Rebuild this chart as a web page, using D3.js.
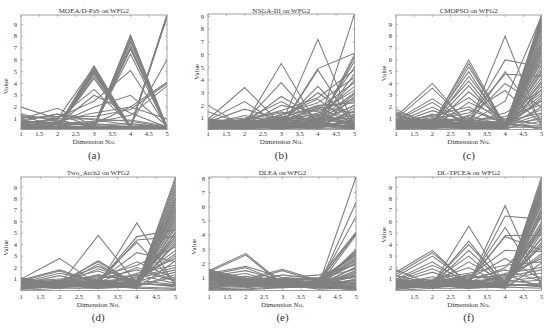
<!DOCTYPE html>
<html>
<head>
<meta charset="utf-8">
<script src="https://cdn.jsdelivr.net/npm/d3@7"></script>
<style>
body { margin: 0; background: #fff; }
svg text { font-family: "Liberation Serif", "Times New Roman", serif; fill: #333; }
</style>
</head>
<body>
<svg width="550" height="328"></svg>
<script>
// objective dimensions and x tick labels
var dims = [1, 2, 3, 4, 5];
var xTicks = [1, 1.5, 2, 2.5, 3, 3.5, 4, 4.5, 5];
var titles = ["MOEA/D-PaS on WFG2", "NSGA-III on WFG2", "CMOPSO on WFG2",
              "Two_Arch2 on WFG2", "DLEA on WFG2", "DL-TPCEA on WFG2"];
var letters = ["(a)", "(b)", "(c)", "(d)", "(e)", "(f)"];

// each row = one solution, values on dims 1..5
var moeadPas = [
  [2.0, 1.0, 5.4, 0.3, 0.3], [1.3, 0.3, 5.5, 0.3, 0.2], [0.9, 0.3, 5.2, 0.3, 0.2],
  [0.6, 0.3, 5.0, 0.2, 0.3], [0.4, 0.2, 4.8, 0.3, 0.2], [0.3, 0.2, 4.6, 0.3, 0.3],
  [0.2, 0.3, 4.4, 0.2, 0.2], [0.5, 0.2, 5.3, 0.3, 0.2], [1.0, 1.9, 0.4, 8.1, 0.3],
  [0.8, 1.4, 0.3, 7.8, 0.2], [0.6, 0.9, 0.3, 7.5, 0.3], [0.3, 0.3, 0.3, 7.2, 0.2],
  [0.2, 0.2, 0.3, 6.9, 0.3], [0.4, 0.3, 0.4, 6.5, 0.2], [0.3, 0.2, 0.3, 8.0, 0.3],
  [0.2, 0.3, 0.2, 0.3, 9.8], [0.3, 0.2, 0.3, 0.2, 9.7], [0.4, 0.3, 0.3, 0.3, 9.8],
  [0.2, 0.2, 0.4, 0.3, 9.6], [1.2, 1.0, 3.5, 0.5, 0.3], [0.7, 0.5, 3.0, 1.5, 0.3],
  [0.5, 1.1, 2.5, 5.1, 0.3], [0.8, 0.6, 2.0, 3.0, 0.4], [0.3, 0.8, 1.5, 2.0, 4.1],
  [1.1, 1.2, 1.2, 1.8, 4.0], [0.9, 1.4, 0.9, 0.5, 6.0], [0.4, 0.4, 0.7, 1.3, 3.8],
  [0.6, 1.0, 1.0, 0.8, 0.3], [1.4, 0.8, 0.5, 0.6, 0.3], [0.2, 0.2, 0.3, 0.3, 0.3],
  [0.3, 0.4, 0.6, 2.0, 1.0], [0.1, 0.2, 0.2, 0.2, 0.2], [0.5, 0.6, 0.8, 0.9, 0.4],
  [0.3, 0.3, 5.1, 0.2, 0.2], [0.4, 0.2, 4.9, 0.3, 0.3], [0.2, 0.3, 0.2, 7.6, 0.2],
  [0.3, 0.2, 0.3, 7.0, 0.3], [0.3, 0.2, 0.2, 0.2, 9.7], [0.7, 0.7, 0.4, 0.4, 0.2],
  [0.9, 0.5, 0.6, 0.3, 0.3]
];
var nsga3 = [
  [2.0, 0.3, 0.5, 0.4, 0.3], [1.5, 0.5, 0.6, 0.8, 1.0], [0.9, 3.4, 0.5, 0.3, 0.4],
  [0.8, 2.3, 0.4, 0.5, 0.3], [0.7, 1.7, 0.9, 0.6, 2.0], [0.6, 0.5, 5.3, 0.4, 0.3],
  [0.5, 0.7, 3.8, 0.5, 0.4], [0.4, 0.6, 2.7, 1.0, 0.5], [0.3, 0.9, 2.3, 0.8, 1.2],
  [0.8, 0.5, 2.0, 1.5, 0.4], [0.7, 0.4, 0.5, 7.2, 0.3], [0.6, 0.3, 0.4, 4.9, 6.1],
  [0.5, 0.8, 0.3, 4.8, 0.3], [0.4, 0.9, 0.6, 3.5, 0.5], [0.3, 0.4, 0.8, 3.0, 1.0],
  [0.9, 0.6, 1.2, 2.5, 0.4], [0.2, 0.5, 1.0, 2.0, 2.2], [0.6, 0.2, 0.3, 0.3, 9.2],
  [0.5, 0.7, 0.5, 0.4, 6.0], [0.4, 0.6, 0.7, 0.6, 5.5], [0.8, 0.8, 0.3, 1.0, 5.0],
  [0.3, 0.3, 0.9, 0.5, 4.5], [0.7, 1.0, 1.5, 0.7, 4.0], [0.2, 0.4, 0.4, 1.2, 3.5],
  [0.9, 0.5, 1.1, 0.9, 3.0], [0.5, 1.2, 0.6, 0.3, 2.7], [0.6, 0.9, 1.4, 1.6, 2.5],
  [0.4, 0.3, 0.5, 0.2, 1.8], [0.3, 0.6, 0.2, 0.6, 1.5], [0.8, 0.7, 0.8, 1.8, 0.6],
  [0.1, 0.2, 0.2, 0.2, 0.2], [0.2, 0.1, 0.1, 0.6, 0.1], [0.3, 0.2, 0.4, 0.7, 0.2],
  [0.5, 0.3, 0.2, 0.3, 0.8], [0.6, 0.5, 0.3, 0.8, 0.2], [0.7, 0.6, 0.6, 0.4, 0.1],
  [0.9, 0.4, 0.7, 1.1, 0.3], [0.4, 0.8, 0.9, 1.3, 0.5], [0.8, 0.3, 1.3, 2.2, 4.2],
  [0.2, 0.6, 0.7, 1.4, 3.2], [0.7, 0.2, 0.4, 0.9, 2.4], [0.5, 0.4, 1.0, 0.5, 1.3],
  [0.1, 0.3, 0.5, 0.9, 0.6], [0.3, 0.1, 0.8, 0.2, 0.9], [0.5, 0.5, 0.1, 1.0, 0.4],
  [0.7, 0.8, 0.4, 0.1, 1.1], [0.9, 0.2, 0.6, 0.5, 0.2], [0.2, 0.7, 0.3, 0.4, 0.7],
  [0.4, 0.4, 0.9, 0.7, 0.3], [0.6, 0.1, 0.5, 1.2, 0.5], [0.8, 0.6, 0.2, 0.3, 1.6],
  [0.3, 0.9, 1.1, 0.8, 2.0], [0.5, 0.2, 0.7, 1.7, 3.8], [0.1, 0.5, 0.4, 0.6, 2.9],
  [0.7, 0.3, 1.0, 1.9, 1.4], [0.9, 0.7, 0.5, 0.4, 5.8], [0.2, 0.8, 1.6, 2.6, 4.8]
];
var cmopso = [
  [1.8, 0.4, 0.5, 0.3, 9.8], [1.6, 0.6, 0.4, 0.2, 9.5], [1.4, 0.3, 0.6, 0.3, 9.0],
  [1.2, 4.0, 0.5, 0.4, 8.5], [1.0, 3.6, 0.6, 0.3, 8.0], [0.9, 2.7, 0.7, 0.5, 7.5],
  [0.8, 2.4, 0.4, 0.3, 7.0], [0.7, 2.0, 0.5, 0.2, 6.5], [0.6, 1.7, 0.8, 0.4, 6.0],
  [0.5, 1.4, 0.3, 0.3, 5.5], [0.4, 0.5, 6.0, 0.4, 5.0], [0.3, 0.6, 5.7, 0.3, 4.5],
  [0.2, 0.4, 5.4, 0.5, 4.0], [0.6, 0.7, 5.0, 0.3, 3.5], [0.5, 0.5, 4.6, 0.6, 3.0],
  [0.4, 0.8, 4.2, 0.4, 2.5], [0.3, 0.6, 3.8, 0.3, 2.0], [0.7, 0.4, 3.3, 0.8, 1.5],
  [0.8, 0.9, 2.8, 0.5, 1.0], [0.2, 0.3, 2.4, 1.0, 0.5], [0.5, 0.6, 0.5, 8.0, 0.3],
  [0.4, 0.5, 0.8, 6.0, 5.4], [0.6, 0.7, 0.6, 5.0, 0.8], [0.3, 0.4, 1.2, 4.8, 4.6],
  [0.7, 0.8, 0.9, 4.0, 2.0], [0.2, 1.0, 1.5, 3.4, 0.6], [0.9, 1.2, 0.7, 2.5, 9.7],
  [0.5, 0.3, 0.4, 0.2, 9.3], [0.3, 0.5, 0.3, 0.3, 8.8], [0.6, 0.2, 0.6, 0.4, 8.2],
  [0.4, 0.7, 0.2, 0.2, 7.8], [0.8, 0.4, 0.9, 0.5, 7.2], [0.2, 0.6, 0.5, 0.3, 6.8],
  [0.7, 1.1, 0.4, 0.6, 6.2], [0.3, 0.9, 1.0, 0.4, 5.8], [0.5, 0.3, 0.7, 0.7, 5.2],
  [0.1, 0.2, 0.3, 0.2, 4.2], [0.6, 0.8, 1.1, 0.9, 3.2], [0.4, 0.5, 0.8, 1.2, 2.2],
  [0.9, 0.7, 0.5, 0.3, 0.3], [1.1, 0.9, 1.8, 0.6, 0.2], [0.2, 0.1, 0.2, 0.1, 1.2],
  [0.1, 0.5, 0.6, 0.2, 0.8], [0.3, 0.2, 0.4, 0.5, 1.8], [0.5, 0.8, 0.2, 0.3, 2.8],
  [0.7, 0.3, 0.7, 0.1, 3.8], [0.9, 0.6, 0.3, 0.4, 4.8], [1.3, 0.5, 0.5, 0.3, 6.6],
  [1.5, 0.4, 0.8, 0.2, 7.4], [0.2, 0.7, 0.4, 0.6, 8.6], [0.4, 0.2, 0.6, 0.3, 9.1],
  [0.6, 0.9, 0.5, 0.2, 9.6], [0.8, 0.3, 0.2, 0.5, 0.4], [0.3, 0.8, 0.9, 0.7, 0.1],
  [0.5, 0.4, 1.3, 0.4, 1.4], [0.7, 1.3, 2.0, 0.6, 2.6], [0.2, 0.6, 0.7, 1.5, 3.4]
];
var twoArch2 = [
  [1.1, 0.5, 0.6, 0.4, 9.9], [1.0, 2.8, 0.5, 0.6, 0.4], [0.9, 1.8, 0.7, 0.5, 8.0],
  [0.8, 1.7, 0.6, 0.3, 7.6], [0.7, 1.5, 0.8, 0.5, 7.2], [0.6, 1.3, 0.5, 0.4, 6.8],
  [0.5, 0.5, 4.8, 0.6, 0.5], [0.4, 0.6, 2.6, 0.5, 6.4], [0.3, 0.7, 2.5, 0.4, 6.0],
  [0.6, 0.4, 2.3, 0.3, 5.6], [0.5, 0.8, 2.1, 0.7, 5.0], [0.4, 0.5, 1.9, 0.8, 4.6],
  [0.3, 0.9, 1.7, 0.5, 4.2], [0.7, 0.6, 0.5, 5.9, 0.4], [0.6, 0.5, 0.7, 4.7, 5.3],
  [0.5, 0.7, 0.6, 4.4, 4.7], [0.4, 0.4, 0.9, 4.2, 0.6], [0.3, 0.6, 0.8, 3.3, 2.5],
  [0.2, 0.5, 1.0, 2.5, 1.0], [0.8, 1.0, 1.2, 2.2, 3.8], [0.5, 0.4, 0.4, 0.3, 9.6],
  [0.4, 0.3, 0.5, 0.4, 9.0], [0.6, 0.6, 0.3, 0.5, 8.5], [0.3, 0.5, 0.6, 0.3, 7.8],
  [0.7, 0.7, 0.4, 0.6, 7.0], [0.2, 0.4, 0.7, 0.4, 6.6], [0.6, 0.8, 0.5, 0.7, 5.8],
  [0.4, 0.6, 0.8, 0.5, 5.4], [0.5, 0.3, 0.6, 0.8, 4.4], [0.3, 0.7, 0.9, 0.6, 4.0],
  [0.7, 0.5, 0.7, 1.0, 3.5], [0.2, 0.4, 0.5, 0.9, 3.0], [0.6, 0.9, 1.1, 1.3, 2.8],
  [0.4, 0.6, 0.4, 1.5, 2.2], [0.5, 0.5, 0.8, 1.1, 1.8], [0.3, 0.3, 0.3, 0.4, 1.4],
  [0.9, 0.8, 1.0, 1.8, 0.8], [0.0, 0.2, 0.2, 0.3, 0.2], [0.8, 0.7, 1.3, 0.9, 0.5],
  [0.2, 0.3, 0.4, 0.2, 0.1],
  [0.1, 0.4, 0.3, 0.6, 9.3], [0.3, 0.6, 0.5, 0.2, 8.8], [0.5, 0.2, 0.7, 0.5, 8.2],
  [0.7, 0.5, 0.2, 0.4, 7.4], [0.9, 0.3, 0.6, 0.7, 6.2], [0.2, 0.7, 0.4, 0.3, 5.1],
  [0.4, 0.2, 0.8, 0.6, 4.8], [0.6, 0.6, 0.3, 0.9, 3.2], [0.8, 0.4, 0.9, 0.2, 2.6],
  [1.0, 0.7, 0.5, 1.2, 2.0], [0.3, 0.5, 0.2, 0.8, 1.6], [0.5, 0.8, 0.6, 0.4, 1.2],
  [0.7, 0.3, 0.4, 1.4, 0.6], [0.2, 0.6, 1.4, 0.7, 0.3], [0.6, 0.9, 0.7, 2.0, 0.9]
];
var dlea = [
  [1.6, 0.5, 0.9, 0.6, 8.1], [1.5, 2.7, 0.6, 0.5, 0.3], [1.4, 2.6, 0.5, 0.7, 0.4],
  [1.3, 1.8, 1.0, 0.5, 6.3], [1.2, 1.7, 0.7, 0.6, 5.3], [1.1, 1.5, 0.8, 0.7, 4.2],
  [1.0, 1.3, 0.6, 0.8, 4.1], [0.9, 1.1, 0.7, 0.6, 2.8], [0.8, 0.9, 1.6, 0.8, 2.7],
  [0.7, 0.8, 1.5, 0.7, 2.5], [0.6, 0.7, 1.2, 0.9, 2.2], [0.5, 0.6, 1.0, 1.2, 1.9],
  [0.4, 0.5, 0.8, 1.0, 1.6], [0.3, 0.6, 0.6, 0.8, 1.0], [0.2, 0.7, 0.5, 0.6, 0.8],
  [0.1, 0.2, 0.4, 0.5, 0.5], [1.6, 0.6, 0.5, 0.4, 0.3], [1.5, 0.8, 0.6, 0.5, 4.0],
  [1.4, 0.5, 0.7, 0.6, 2.9], [1.3, 0.7, 0.5, 0.8, 2.6], [1.2, 0.6, 0.8, 0.5, 2.3],
  [1.1, 0.9, 0.6, 0.7, 2.0], [1.0, 0.5, 0.5, 0.6, 1.7], [0.9, 0.7, 0.7, 0.5, 1.4],
  [0.8, 0.6, 0.9, 0.7, 1.2], [0.7, 0.5, 0.6, 0.4, 0.9], [0.6, 0.8, 0.5, 0.6, 0.6],
  [0.5, 0.6, 0.7, 0.5, 0.4], [0.4, 0.5, 0.4, 0.3, 0.2], [0.3, 0.4, 0.3, 0.4, 0.1],
  [0.2, 0.3, 0.5, 0.2, 0.3], [1.5, 1.0, 0.9, 1.0, 4.2], [1.4, 0.7, 0.8, 0.9, 2.7],
  [1.3, 0.6, 0.6, 0.8, 0.2], [1.2, 0.5, 0.4, 0.6, 0.1], [1.1, 0.4, 0.6, 0.5, 1.5],
  [1.0, 0.6, 0.3, 0.7, 0.7], [0.9, 0.5, 0.5, 0.3, 0.5], [0.15, 0.15, 0.3, 0.4, 0.3],
  [1.6, 0.7, 0.6, 0.5, 1.1], [1.55, 0.9, 0.7, 0.6, 0.6], [1.45, 0.6, 0.8, 0.4, 1.8],
  [1.35, 0.8, 0.5, 0.7, 0.3], [1.25, 0.9, 0.7, 0.5, 3.0], [1.15, 0.7, 0.9, 0.9, 0.5],
  [1.05, 0.8, 0.4, 0.6, 2.4], [0.95, 0.4, 0.6, 0.8, 0.2], [0.85, 0.7, 0.5, 0.4, 1.3],
  [0.75, 0.9, 0.8, 0.6, 0.8], [0.65, 0.5, 0.6, 0.7, 2.1], [0.55, 0.4, 0.5, 0.5, 0.4],
  [0.45, 0.7, 0.7, 0.6, 0.7], [0.35, 0.5, 0.4, 0.8, 1.1], [0.25, 0.6, 0.6, 0.3, 0.3]
];
var dlTpcea = [
  [1.8, 0.5, 0.6, 0.4, 9.9], [1.6, 3.5, 0.5, 0.5, 0.4], [1.4, 3.3, 0.6, 0.6, 0.3],
  [1.2, 3.0, 0.7, 0.4, 9.0], [1.0, 2.5, 0.5, 0.3, 8.5], [0.9, 2.2, 0.8, 0.5, 8.0],
  [0.8, 1.9, 0.6, 0.6, 7.5], [0.7, 1.6, 0.5, 0.4, 7.0], [0.6, 0.5, 5.6, 0.5, 0.5],
  [0.5, 0.6, 4.3, 0.4, 6.5], [0.4, 0.7, 4.0, 0.6, 6.0], [0.3, 0.5, 3.5, 0.5, 5.5],
  [0.6, 0.8, 3.0, 0.3, 5.0], [0.5, 0.6, 2.5, 0.7, 4.5], [0.4, 0.9, 2.0, 0.5, 4.0],
  [0.3, 0.5, 0.6, 7.4, 0.3], [0.7, 0.6, 0.5, 6.5, 6.2], [0.6, 0.7, 0.8, 5.5, 0.6],
  [0.5, 0.5, 0.7, 4.8, 4.8], [0.4, 0.8, 0.9, 4.7, 3.5], [0.3, 0.6, 1.2, 3.5, 3.4],
  [0.2, 0.7, 1.0, 2.8, 1.0], [0.8, 1.0, 1.5, 2.2, 2.5], [0.5, 0.4, 0.5, 0.3, 9.6],
  [0.4, 0.3, 0.4, 0.4, 9.2], [0.6, 0.6, 0.6, 0.5, 8.7], [0.3, 0.5, 0.3, 0.3, 8.2],
  [0.7, 0.7, 0.5, 0.6, 7.8], [0.2, 0.4, 0.7, 0.4, 7.2], [0.6, 0.8, 0.4, 0.7, 6.8],
  [0.4, 0.6, 0.8, 0.5, 5.8], [0.5, 0.3, 0.6, 0.8, 5.2], [0.3, 0.7, 0.9, 0.6, 4.2],
  [0.7, 0.5, 0.7, 1.0, 3.8], [0.2, 0.4, 0.5, 0.9, 3.0], [0.6, 0.9, 1.1, 1.3, 2.8],
  [0.4, 0.6, 0.4, 1.5, 2.0], [0.5, 0.5, 0.8, 1.1, 1.5], [0.9, 0.8, 1.0, 1.8, 0.8],
  [0.0, 0.2, 0.2, 0.3, 0.2], [0.8, 0.7, 1.3, 0.9, 0.5],
  [0.1, 0.4, 0.3, 0.6, 9.4], [0.3, 0.6, 0.5, 0.2, 8.9], [0.5, 0.2, 0.7, 0.5, 8.4],
  [0.7, 0.5, 0.2, 0.4, 7.6], [0.9, 0.3, 0.6, 0.7, 6.6], [0.2, 0.7, 0.4, 0.3, 5.6],
  [0.4, 0.2, 0.8, 0.6, 4.6], [0.6, 0.6, 0.3, 0.9, 3.2], [0.8, 0.4, 0.9, 0.2, 2.4],
  [1.0, 0.7, 0.5, 1.2, 1.8], [0.3, 0.5, 0.2, 0.8, 1.2], [0.5, 0.8, 0.6, 0.4, 0.6],
  [0.7, 0.3, 0.4, 1.4, 0.3], [1.3, 0.6, 1.4, 0.7, 0.9], [0.6, 1.2, 0.7, 2.0, 5.3]
];

var series = [moeadPas, nsga3, cmopso, twoArch2, dlea, dlTpcea];

// plot boxes (px) and label offsets for each panel
var boxes = [
  {l: 21,  r: 167,   t: 15,  b: 129.5, yl: -13, ly: 14, row: 0},
  {l: 208, r: 354.5, t: 14,  b: 129.5, yl: -9,  ly: 0,  row: 0},
  {l: 396, r: 541.5, t: 15,  b: 129.5, yl: -10, ly: 1,  row: 0},
  {l: 21,  r: 175.5, t: 177, b: 290.5, yl: -13, ly: 14, row: 1},
  {l: 209, r: 356,   t: 177, b: 290.5, yl: -13, ly: 13, row: 1},
  {l: 396, r: 541.5, t: 177, b: 290.5, yl: -10, ly: 1,  row: 1, skipFirst: true}
];
var rowText = [
  {title: 12.5, tick: 136, xlab: 143.5, letter: 158.5},
  {title: 175,  tick: 299, xlab: 306.5, letter: 321}
];

var svg = d3.select("svg");
var lineColor = "#808080";
var frameColor = "#8c8c8c";

series.forEach(function(data, i) {
  var b = boxes[i];
  var rt = rowText[b.row];
  var all = d3.merge(data);
  var x = d3.scaleLinear().domain([1, 5]).range([b.l, b.r]);
  var y = d3.scaleLinear().domain(d3.extent(all)).range([b.b, b.t]);
  var yTicks = d3.range(1, Math.floor(d3.max(all)) + 1);

  var g = svg.append("g");

  g.append("clipPath").attr("id", "clip" + i)
    .append("rect").attr("x", b.l).attr("y", b.t)
    .attr("width", b.r - b.l).attr("height", b.b - b.t);

  var line = d3.line()
    .x(function(d, k) { return x(dims[k]); })
    .y(function(d) { return y(d); });

  g.append("g").attr("clip-path", "url(#clip" + i + ")")
    .selectAll("path")
    .data(data)
    .enter()
    .append("path")
    .attr("d", line)
    .attr("fill", "none")
    .attr("stroke", lineColor)
    .attr("stroke-width", 1.1);

  // frame
  g.append("rect")
    .attr("x", b.l).attr("y", b.t)
    .attr("width", b.r - b.l).attr("height", b.b - b.t)
    .attr("fill", "none").attr("stroke", frameColor).attr("stroke-width", 0.8);

  // inward ticks on all four sides
  xTicks.forEach(function(v) {
    g.append("line").attr("x1", x(v)).attr("x2", x(v)).attr("y1", b.b).attr("y2", b.b - 2)
      .attr("stroke", frameColor).attr("stroke-width", 0.6);
    g.append("line").attr("x1", x(v)).attr("x2", x(v)).attr("y1", b.t).attr("y2", b.t + 2)
      .attr("stroke", frameColor).attr("stroke-width", 0.6);
  });
  yTicks.forEach(function(v) {
    g.append("line").attr("x1", b.l).attr("x2", b.l + 2).attr("y1", y(v)).attr("y2", y(v))
      .attr("stroke", frameColor).attr("stroke-width", 0.6);
    g.append("line").attr("x1", b.r).attr("x2", b.r - 2).attr("y1", y(v)).attr("y2", y(v))
      .attr("stroke", frameColor).attr("stroke-width", 0.6);
  });

  // tick labels
  g.selectAll(".xt")
    .data(b.skipFirst ? xTicks.slice(1) : xTicks)
    .enter().append("text")
    .attr("x", function(d) { return x(d); })
    .attr("y", rt.tick)
    .attr("text-anchor", "middle")
    .attr("font-size", 6.5)
    .text(function(d) { return d; });

  g.selectAll(".yt")
    .data(yTicks)
    .enter().append("text")
    .attr("x", b.l - 4)
    .attr("y", function(d) { return y(d) + 2.2; })
    .attr("text-anchor", "end")
    .attr("font-size", 6.5)
    .text(function(d) { return d; });

  var cx = (b.l + b.r) / 2;
  g.append("text").attr("x", cx).attr("y", rt.title)
    .attr("text-anchor", "middle").attr("font-size", 7).text(titles[i]);
  g.append("text").attr("x", cx).attr("y", rt.xlab)
    .attr("text-anchor", "middle").attr("font-size", 7).text("Dimension No.");
  g.append("text").attr("x", cx).attr("y", rt.letter)
    .attr("text-anchor", "middle").attr("font-size", 11).attr("fill", "#111").text(letters[i]);

  var vy = (b.t + b.b) / 2 + b.ly;
  g.append("text")
    .attr("transform", "translate(" + (b.l + b.yl) + "," + vy + ") rotate(-90)")
    .attr("text-anchor", "middle").attr("font-size", 7).text("Value");
});
</script>
</body>
</html>
